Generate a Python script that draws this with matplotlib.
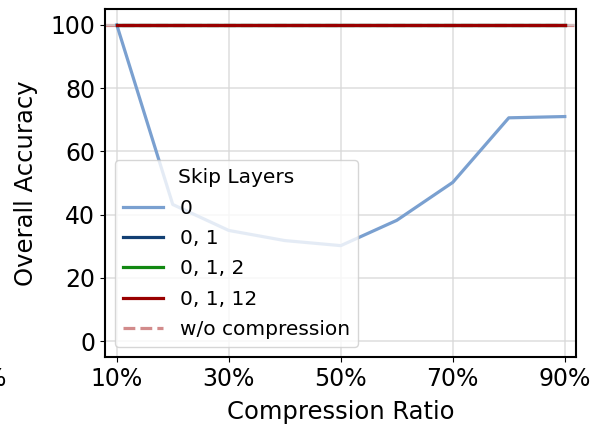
import matplotlib.pyplot as plt
import numpy as np

# compression ratio (%) and overall accuracy for each skip-layer setting
ratios = [10, 20, 30, 40, 50, 60, 70, 80, 90]
acc_skip0 = [100, 43.2, 35.0, 31.8, 30.2, 38.2, 50.2, 70.6, 71.0]
acc_skip01 = [100, 100, 100, 100, 100, 100, 100, 100, 100]
acc_skip012 = [100, 100, 100, 100, 100, 100, 100, 100, 100]
acc_skip0112 = [100, 100, 100, 100, 100, 100, 100, 100, 100]
acc_baseline = 100

series_labels = ["0", "0, 1", "0, 1, 2", "0, 1, 12"]
series_colors = ["#7aa0d0", "#123f73", "#118811", "#990000"]
xtick_vals = [10, 30, 50, 70, 90]

fig = plt.figure(figsize=(5.98, 4.28), dpi=100)
ax = fig.add_axes([0.1756, 0.1659, 0.7876, 0.8131])

for vals, lab, col in zip([acc_skip0, acc_skip01, acc_skip012, acc_skip0112],
                          series_labels, series_colors):
    ax.plot(ratios, vals, color=col, lw=2.3, label=lab)
ax.axhline(acc_baseline, color="#cd7f7f", lw=2.3, ls="--", alpha=0.9,
           label="w/o compression", zorder=1)

ax.set_xlim(7.9, 92)
ax.set_ylim(-5, 105)
ax.set_xticks(xtick_vals)
ax.set_xticklabels([f"{v}%" for v in xtick_vals])
ax.set_yticks([0, 20, 40, 60, 80, 100])
ax.tick_params(labelsize=17)
ax.set_xlabel("Compression Ratio", fontsize=17.5, labelpad=7)
ax.set_ylabel("Overall Accuracy", fontsize=17.5, labelpad=9)
ax.grid(True, color="#d8d8d8", lw=1.2, alpha=0.8)
for s in ax.spines.values():
    s.set_linewidth(1.5)

ax.legend(title="Skip Layers", loc="lower left", fontsize=14.5,
          title_fontsize=14.5, borderaxespad=0.5, labelspacing=0.56)

# neighbouring panel's last tick label, cut off at the left edge
fig.text(0.012, 0.115, "90%", fontsize=17, ha="right", va="center")

fig.savefig("out.png", dpi=100)
